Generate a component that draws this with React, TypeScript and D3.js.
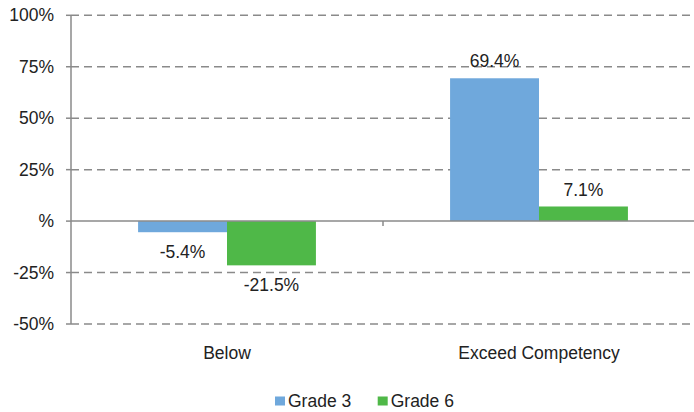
import React, { useEffect, useRef } from 'react';
import * as d3 from 'd3';

const categories = ['Below', 'Exceed Competency'];
const seriesNames = ['Grade 3', 'Grade 6'];
const grade3 = [-5.4, 69.4];
const grade6 = [-21.5, 7.1];
const yTicks = [-50, -25, 0, 25, 50, 75, 100];
const colors = ['#6fa8dc', '#4fb848'];

const App = () => {
  const svgRef = useRef<SVGSVGElement | null>(null);

  useEffect(() => {
    const width = 694;
    const height = 412;
    const left = 71;
    const right = 695;
    const top = 15.3;
    const bottom = 324;
    const font = '"Liberation Sans", Arial, Helvetica, sans-serif';
    const fontSize = '17.5px';

    const svg = d3.select(svgRef.current)
      .attr('width', width)
      .attr('height', height);
    svg.selectAll('*').remove();

    const y = d3.scaleLinear().domain([-50, 100]).range([bottom, top]);
    const x0 = d3.scaleBand<string>().domain(categories).range([left, right]).paddingInner(0.43).paddingOuter(0.215);
    const x1 = d3.scaleBand<string>().domain(seriesNames).range([0, x0.bandwidth()]);

    // gridlines
    svg.append('g')
      .selectAll('line')
      .data(yTicks.filter(t => t !== 0))
      .enter()
      .append('line')
      .attr('x1', left)
      .attr('x2', width)
      .attr('y1', d => y(d))
      .attr('y2', d => y(d))
      .attr('stroke', '#8a8a8a')
      .attr('stroke-width', 1.5)
      .attr('stroke-dasharray', '8,5');

    // y axis line + ticks
    svg.append('line')
      .attr('x1', left).attr('x2', left)
      .attr('y1', top).attr('y2', bottom)
      .attr('stroke', '#8a8a8a').attr('stroke-width', 1.5);

    svg.append('g')
      .selectAll('line')
      .data(yTicks)
      .enter()
      .append('line')
      .attr('x1', left - 5)
      .attr('x2', left)
      .attr('y1', d => y(d))
      .attr('y2', d => y(d))
      .attr('stroke', '#8a8a8a')
      .attr('stroke-width', 1.5);

    svg.append('g')
      .selectAll('text')
      .data(yTicks)
      .enter()
      .append('text')
      .attr('x', 54)
      .attr('y', d => y(d))
      .attr('dy', '0.35em')
      .attr('text-anchor', 'end')
      .attr('font-family', font)
      .attr('font-size', fontSize)
      .attr('fill', '#222')
      .text(d => (d === 0 ? '%' : `${d}%`));

    // bars
    const rows = categories.map((c, i) => ({ cat: c, vals: [grade3[i], grade6[i]] }));
    const groups = svg.append('g')
      .selectAll('g')
      .data(rows)
      .enter()
      .append('g')
      .attr('transform', d => `translate(${x0(d.cat)},0)`);

    groups.selectAll('rect')
      .data(d => d.vals.map((v, j) => ({ v, s: seriesNames[j], j })))
      .enter()
      .append('rect')
      .attr('x', d => x1(d.s)!)
      .attr('width', x1.bandwidth())
      .attr('y', d => y(Math.max(0, d.v)))
      .attr('height', d => Math.abs(y(d.v) - y(0)))
      .attr('fill', d => colors[d.j]);

    groups.selectAll('text')
      .data(d => d.vals.map((v, j) => ({ v, s: seriesNames[j] })))
      .enter()
      .append('text')
      .attr('x', d => x1(d.s)! + x1.bandwidth() / 2)
      .attr('y', d => (d.v >= 0 ? y(d.v) - 17 : y(d.v) + 20))
      .attr('dy', '0.35em')
      .attr('text-anchor', 'middle')
      .attr('font-family', font)
      .attr('font-size', fontSize)
      .attr('fill', '#222')
      .text(d => `${d.v.toFixed(1)}%`);

    // zero axis
    svg.append('line')
      .attr('x1', left).attr('x2', width)
      .attr('y1', y(0)).attr('y2', y(0))
      .attr('stroke', '#8a8a8a').attr('stroke-width', 1.5);

    const step = x0.step();
    svg.append('line')
      .attr('x1', left + step).attr('x2', left + step)
      .attr('y1', y(0)).attr('y2', y(0) + 5)
      .attr('stroke', '#8a8a8a').attr('stroke-width', 1.5);

    // category labels
    svg.append('g')
      .selectAll('text')
      .data(categories)
      .enter()
      .append('text')
      .attr('x', d => x0(d)! + x0.bandwidth() / 2)
      .attr('y', 353)
      .attr('dy', '0.35em')
      .attr('text-anchor', 'middle')
      .attr('font-family', font)
      .attr('font-size', fontSize)
      .attr('fill', '#222')
      .text(d => d);

    // legend
    const legend = svg.append('g')
      .selectAll('g')
      .data(seriesNames)
      .enter()
      .append('g')
      .attr('transform', (d, i) => `translate(${275 + i * 102.7},401)`);

    legend.append('rect')
      .attr('x', 0).attr('y', -4.5)
      .attr('width', 10).attr('height', 9)
      .attr('fill', (d, i) => colors[i]);

    legend.append('text')
      .attr('x', 13)
      .attr('y', 0)
      .attr('dy', '0.35em')
      .attr('font-family', font)
      .attr('font-size', fontSize)
      .attr('fill', '#222')
      .text(d => d);
  }, []);

  return (
    <div style={{ position: 'absolute', left: 0, top: 0 }}>
      <svg ref={svgRef} style={{ display: 'block' }}></svg>
    </div>
  );
};

export default App;
